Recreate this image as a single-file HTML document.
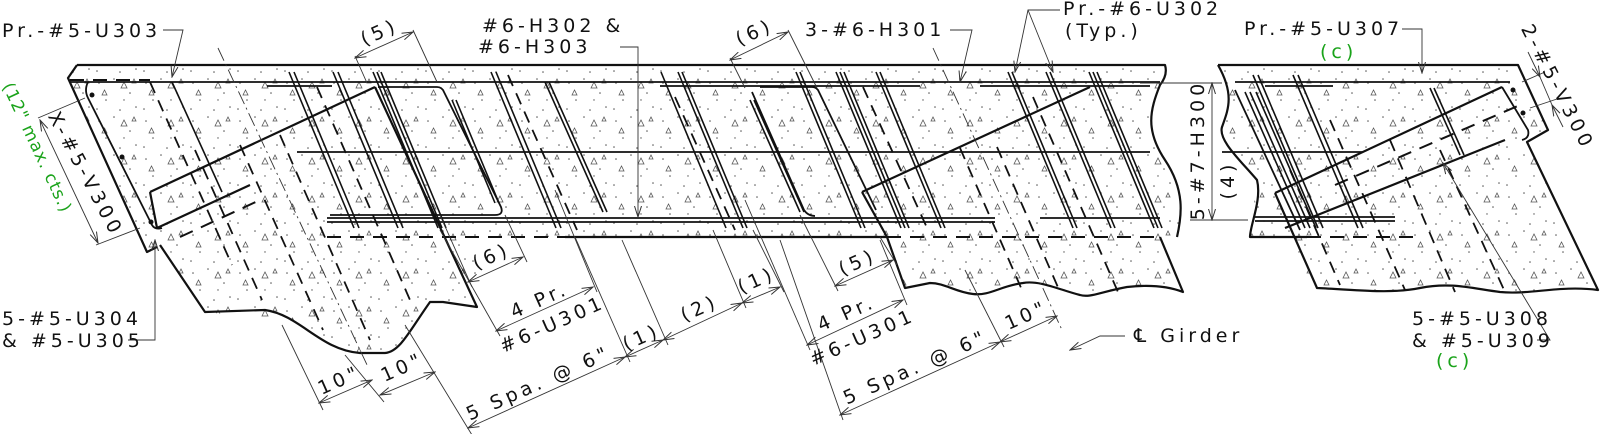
<!DOCTYPE html>
<html><head><meta charset="utf-8">
<style>
html,body{margin:0;padding:0;background:#fff;}
svg{display:block;}
text{font-family:"DejaVu Sans","Liberation Sans",sans-serif;font-size:19px;letter-spacing:4px;fill:#111;}
.g{fill:#1aa31a;}
</style></head><body>
<svg width="1600" height="434" viewBox="0 0 1600 434" xmlns="http://www.w3.org/2000/svg">
<defs>
<pattern id="st" patternUnits="userSpaceOnUse" width="47" height="38">
<g fill="#555"><circle cx="5" cy="7" r="0.8"/><circle cx="20" cy="3" r="0.8"/><circle cx="36" cy="17" r="0.8"/><circle cx="12" cy="24" r="0.8"/><circle cx="42" cy="31" r="0.8"/><circle cx="26" cy="34" r="0.8"/><circle cx="3" cy="33" r="0.8"/><circle cx="30" cy="24" r="0.7"/></g>
<g fill="none" stroke="#555" stroke-width="0.8"><path d="M27 12 l3 -6 l3 6 z"/><path d="M8 19 l2.5 -5 l2.5 5 z"/><path d="M38 7 l2 -4 l2 4z"/></g>
</pattern>
<marker id="ar" markerUnits="userSpaceOnUse" markerWidth="12" markerHeight="8" refX="11" refY="4" orient="auto-start-reverse"><path d="M0,0.5 L11,4 L0,7.5" fill="none" stroke="#333" stroke-width="1"/></marker>
</defs>

<g fill="url(#st)" stroke="none">
<path d="M77,65 H1165 Q1168,75 1160,85 C1150,110 1145,130 1165,160 C1185,190 1182,215 1177,237 L1160,237 L1183,292 C1165,285 1145,285 1127,287 C1100,292 1090,298 1080,295 C1060,290 1040,280 1023,283 C1000,286 990,296 973,294 C955,292 945,283 930,283 L905,288 L887,237 L477,237 L477,307 L443,302 L430,302 C410,330 400,352 385,353 L360,353 C330,350 305,318 280,320 L205,312 L160,245 L147,252 L68,78 Z"/>
<path d="M1218,65 H1518 L1548,130 L1527,142 L1598,290 C1560,285 1530,295 1500,292 C1470,288 1450,282 1420,288 C1390,294 1360,290 1317,288 L1280,237 L1250,237 L1257,180 C1240,160 1218,140 1222,127 C1228,110 1235,95 1218,65 Z"/>
</g>

<g fill="none" stroke="#111" stroke-width="2.2" stroke-linejoin="round">
<path d="M77,65 H1165 Q1168,75 1160,85 C1150,110 1145,130 1165,160 C1185,190 1182,215 1177,237"/>
<path d="M77,65 L68,78 L147,252 L157,247"/>
<line x1="565" y1="237" x2="887" y2="237"/>
<path d="M160,245 L205,312 L265,310 C300,315 320,350 360,353 L385,353 C400,352 410,330 430,302 L443,302 L477,307 L375,87"/>
<path d="M150,192 L375,87"/>
<path d="M150,192 L157,228 L250,185"/>
<path d="M887,237 L905,288 L930,283 C945,283 955,292 973,294 C990,296 1000,286 1023,283 C1040,280 1060,290 1080,295 C1090,298 1100,292 1127,287 C1145,285 1165,285 1183,292 L1160,237"/>
<path d="M862,192 L1090,87"/>
<path d="M862,192 L887,237"/>
<path d="M1218,65 H1518 L1548,130 L1527,142 L1598,290 C1560,285 1530,295 1500,292 C1470,288 1450,282 1420,288 C1390,294 1360,290 1317,288 L1275,193"/>
<path d="M1218,65 C1235,95 1228,110 1222,127 C1218,140 1240,160 1257,180 C1262,200 1250,225 1250,237 L1307,237"/>
<path d="M1275,193 L1502,87"/>
<path d="M1285,228 L1505,140"/>
</g>

<g stroke="#111" stroke-width="1.8" fill="none">
<line x1="70" y1="82" x2="1160" y2="82"/>
<line x1="267" y1="86" x2="332" y2="86"/>
<line x1="660" y1="86" x2="920" y2="86"/>
<line x1="980" y1="86" x2="1150" y2="86"/>
<line x1="297" y1="152" x2="1150" y2="152"/>
<line x1="327" y1="218" x2="995" y2="218"/>
<line x1="1040" y1="218" x2="1160" y2="218"/>
<line x1="327" y1="222" x2="995" y2="222"/>
<line x1="1235" y1="82" x2="1510" y2="82"/>
<line x1="1265" y1="86" x2="1333" y2="86"/>
<line x1="1222" y1="152" x2="1363" y2="152"/>
<line x1="1255" y1="217" x2="1395" y2="217"/>
<line x1="1255" y1="221" x2="1395" y2="221"/>
<path d="M88,82 Q84,90 88,98 L152,225 Q155,230 162,228"/>
<path d="M378,87 H437 Q442,87 444,92 L501,207 Q504,215 495,215 H330"/>
<path d="M760,87 H812 Q817,87 819,92 L876,210"/>
<path d="M752,92 L804,210 Q808,216 815,216"/>
<path d="M1502,87 L1528,130 Q1530,138 1522,140"/>
<path d="M1235,90 L1300,230"/>
</g>
<g stroke="#111" stroke-width="2" stroke-dasharray="14 9" fill="none">
<line x1="327" y1="237" x2="565" y2="237"/>
<line x1="887" y1="237" x2="1160" y2="237"/>
<line x1="1307" y1="237" x2="1413" y2="237"/>
<line x1="70" y1="80" x2="150" y2="80"/>
<path d="M180,237 L260,200"/>
<path d="M1335,185 L1520,105"/>
</g>
<g fill="#111"><circle cx="92" cy="95" r="2.5"/><circle cx="122" cy="157" r="2.5"/><circle cx="151" cy="222" r="2.5"/><circle cx="1513" cy="90" r="2.5"/><circle cx="1523" cy="113" r="2.5"/></g>

<g stroke="#111" stroke-width="1.6">
<line x1="172" y1="82" x2="222" y2="192"/>
<line x1="289" y1="72" x2="354" y2="228"/><line x1="294" y1="72" x2="359" y2="228"/>
<line x1="333" y1="72" x2="398" y2="228"/><line x1="338" y1="72" x2="403" y2="228"/>
<line x1="373" y1="72" x2="438" y2="228"/><line x1="377" y1="72" x2="442" y2="228"/><line x1="381" y1="72" x2="446" y2="228"/>
<line x1="452" y1="100" x2="495" y2="203"/><line x1="456" y1="100" x2="499" y2="203"/>
<line x1="491" y1="72" x2="556" y2="228"/><line x1="496" y1="72" x2="561" y2="228"/>
<line x1="545" y1="82" x2="603" y2="212"/><line x1="549" y1="82" x2="607" y2="212"/>
<line x1="661" y1="72" x2="726" y2="228"/>
<line x1="678" y1="72" x2="743" y2="228"/><line x1="682" y1="72" x2="747" y2="228"/>
<line x1="750" y1="100" x2="800" y2="212"/><line x1="754" y1="100" x2="804" y2="212"/>
<line x1="796" y1="72" x2="861" y2="228"/><line x1="800" y1="72" x2="865" y2="228"/>
<line x1="836" y1="72" x2="901" y2="228"/><line x1="840" y1="72" x2="905" y2="228"/><line x1="844" y1="72" x2="909" y2="228"/>
<line x1="876" y1="72" x2="941" y2="228"/><line x1="880" y1="72" x2="945" y2="228"/>
<line x1="1008" y1="72" x2="1073" y2="228"/><line x1="1012" y1="72" x2="1077" y2="228"/>
<line x1="1046" y1="72" x2="1111" y2="228"/><line x1="1050" y1="72" x2="1115" y2="228"/>
<line x1="1089" y1="72" x2="1154" y2="228"/><line x1="1093" y1="72" x2="1158" y2="228"/><line x1="1097" y1="72" x2="1162" y2="228"/>
<line x1="1245" y1="92" x2="1305" y2="228"/><line x1="1250" y1="92" x2="1310" y2="228"/><line x1="1256" y1="92" x2="1316" y2="228"/>
<line x1="1253" y1="75" x2="1318" y2="228"/><line x1="1258" y1="75" x2="1323" y2="228"/>
<line x1="1293" y1="75" x2="1358" y2="228"/><line x1="1298" y1="75" x2="1363" y2="228"/>
<line x1="1430" y1="88" x2="1460" y2="155"/><line x1="1434" y1="88" x2="1464" y2="155"/>
</g>
<g stroke="#111" stroke-width="1.8" stroke-dasharray="12 8">
<line x1="150" y1="82" x2="232" y2="265"/>
<line x1="195" y1="150" x2="262" y2="300"/>
<line x1="240" y1="145" x2="323" y2="330"/>
<line x1="280" y1="135" x2="370" y2="340"/>
<line x1="317" y1="87" x2="410" y2="300"/>
<line x1="508" y1="75" x2="577" y2="230"/>
<line x1="675" y1="97" x2="735" y2="230"/>
<line x1="863" y1="87" x2="928" y2="230"/>
<line x1="960" y1="148" x2="1022" y2="290"/>
<line x1="997" y1="147" x2="1060" y2="292"/>
<line x1="1033" y1="97" x2="1118" y2="292"/>
<line x1="1290" y1="170" x2="1340" y2="285"/>
<line x1="1330" y1="120" x2="1405" y2="290"/>
<line x1="1390" y1="140" x2="1455" y2="292"/>
<line x1="1440" y1="150" x2="1505" y2="292"/>
</g>
<g stroke="#333" stroke-width="0.9" stroke-dasharray="14 4 2 4">
<line x1="218" y1="48" x2="368" y2="367"/>
<line x1="933" y1="48" x2="1062" y2="330"/>
</g>

<g stroke="#333" stroke-width="0.9" fill="none">
<line x1="319" y1="403" x2="372" y2="380" marker-start="url(#ar)" marker-end="url(#ar)"/>
<line x1="380" y1="395" x2="435" y2="372" marker-start="url(#ar)" marker-end="url(#ar)"/>
<line x1="468" y1="428" x2="625" y2="357" marker-start="url(#ar)" marker-end="url(#ar)"/>
<line x1="625" y1="357" x2="663" y2="340" marker-start="url(#ar)" marker-end="url(#ar)"/>
<line x1="663" y1="340" x2="742" y2="303" marker-start="url(#ar)" marker-end="url(#ar)"/>
<line x1="742" y1="303" x2="780" y2="287" marker-start="url(#ar)" marker-end="url(#ar)"/>
<line x1="496" y1="331" x2="593" y2="287" marker-start="url(#ar)" marker-end="url(#ar)"/>
<line x1="468" y1="282" x2="523" y2="257" marker-start="url(#ar)" marker-end="url(#ar)"/>
<line x1="355" y1="58" x2="413" y2="32" marker-start="url(#ar)" marker-end="url(#ar)"/>
<line x1="730" y1="60" x2="788" y2="32" marker-start="url(#ar)" marker-end="url(#ar)"/>
<line x1="835" y1="286" x2="893" y2="260" marker-start="url(#ar)" marker-end="url(#ar)"/>
<line x1="807" y1="345" x2="903" y2="300" marker-start="url(#ar)" marker-end="url(#ar)"/>
<line x1="840" y1="415" x2="1000" y2="342" marker-start="url(#ar)" marker-end="url(#ar)"/>
<line x1="1000" y1="342" x2="1057" y2="316" marker-start="url(#ar)" marker-end="url(#ar)"/>
<line x1="40" y1="120" x2="98" y2="243" marker-start="url(#ar)" marker-end="url(#ar)"/>
<line x1="1212" y1="83" x2="1212" y2="220" marker-start="url(#ar)" marker-end="url(#ar)"/>
<line x1="1528" y1="52" x2="1540" y2="77" marker-end="url(#ar)"/>
<line x1="1563" y1="127" x2="1552" y2="105" marker-end="url(#ar)"/>
<line x1="1540" y1="77" x2="1552" y2="105"/>
<line x1="282" y1="325" x2="323" y2="410"/>
<line x1="345" y1="355" x2="384" y2="402"/>
<line x1="405" y1="325" x2="472" y2="435"/>
<line x1="575" y1="237" x2="630" y2="362"/>
<line x1="622" y1="240" x2="668" y2="345"/>
<line x1="713" y1="230" x2="746" y2="308"/>
<line x1="753" y1="230" x2="784" y2="292"/>
<line x1="440" y1="230" x2="500" y2="336"/>
<line x1="555" y1="190" x2="597" y2="292"/>
<line x1="440" y1="215" x2="472" y2="287"/>
<line x1="505" y1="215" x2="527" y2="262"/>
<line x1="367" y1="83" x2="355" y2="56"/>
<line x1="437" y1="82" x2="413" y2="30"/>
<line x1="745" y1="88" x2="730" y2="58"/>
<line x1="817" y1="88" x2="788" y2="30"/>
<line x1="800" y1="215" x2="838" y2="291"/>
<line x1="880" y1="237" x2="897" y2="265"/>
<line x1="745" y1="200" x2="810" y2="350"/>
<line x1="880" y1="240" x2="907" y2="305"/>
<line x1="780" y1="240" x2="843" y2="420"/>
<line x1="965" y1="270" x2="1004" y2="347"/>
<line x1="85" y1="98" x2="38" y2="118"/>
<line x1="140" y1="228" x2="96" y2="245"/>
<line x1="1140" y1="83" x2="1222" y2="83"/>
<line x1="1190" y1="220" x2="1248" y2="220"/>
<line x1="1522" y1="82" x2="1545" y2="72"/>
<line x1="1530" y1="108" x2="1557" y2="99"/>
<polyline points="163,30 183,30 172,77" marker-end="url(#ar)"/>
<polyline points="620,47 638,47 638,217" marker-end="url(#ar)"/>
<polyline points="950,30 972,30 960,82" marker-end="url(#ar)"/>
<polyline points="1060,10 1028,10 1015,72" marker-end="url(#ar)"/>
<polyline points="1028,10 1053,72" marker-end="url(#ar)"/>
<polyline points="1402,29 1422,29 1422,73" marker-end="url(#ar)"/>
<polyline points="1537,340 1550,340 1443,163" marker-end="url(#ar)"/>
<polyline points="128,340 155,340 155,240" marker-end="url(#ar)"/>
<polyline points="1125,336 1100,336 1070,350" marker-end="url(#ar)"/>
</g>

<text x="2" y="37">Pr.-#5-U303</text>
<text x="482" y="32">#6-H302 &amp;</text>
<text x="478" y="53">#6-H303</text>
<text x="805" y="36">3-#6-H301</text>
<text x="1063" y="15">Pr.-#6-U302</text>
<text x="1065" y="37">(Typ.)</text>
<text x="1244" y="35">Pr.-#5-U307</text>
<text x="1320" y="58" class="g">(c)</text>
<text x="1412" y="325">5-#5-U308</text>
<text x="2" y="325">5-#5-U304</text>
<text x="2" y="347">&amp; #5-U305</text>
<text x="1412" y="347">&amp; #5-U309</text>
<text x="1436" y="367" class="g">(c)</text>
<text x="1134" y="342">℄ Girder</text>
<text transform="translate(1204,150) rotate(-90)" text-anchor="middle">5-#7-H300</text>
<text transform="translate(1234,180) rotate(-90)" text-anchor="middle">(4)</text>
<text transform="translate(1552,90) rotate(63)" text-anchor="middle">2-#5-V300</text>
<text transform="translate(80,177) rotate(62)" text-anchor="middle">X-#5-V300</text>
<text transform="translate(32,150) rotate(65)" text-anchor="middle" class="g" style="font-size:17px;letter-spacing:1px">(12" max. cts.)</text>
<g text-anchor="middle">
<text transform="translate(382,38) rotate(-24)">(5)</text>
<text transform="translate(757,38) rotate(-24)">(6)</text>
<text transform="translate(494,262) rotate(-24)">(6)</text>
<text transform="translate(542,306) rotate(-24)">4 Pr.</text>
<text transform="translate(555,330) rotate(-24)">#6-U301</text>
<text transform="translate(541,389) rotate(-24)">5 Spa. @ 6"</text>
<text transform="translate(644,343) rotate(-24)">(1)</text>
<text transform="translate(702,314) rotate(-24)">(2)</text>
<text transform="translate(759,286) rotate(-24)">(1)</text>
<text transform="translate(342,386) rotate(-24)">10"</text>
<text transform="translate(405,373) rotate(-24)">10"</text>
<text transform="translate(860,268) rotate(-24)">(5)</text>
<text transform="translate(849,319) rotate(-24)">4 Pr.</text>
<text transform="translate(865,343) rotate(-24)">#6-U301</text>
<text transform="translate(918,373) rotate(-24)">5 Spa. @ 6"</text>
<text transform="translate(1029,321) rotate(-24)">10"</text>
</g>
</svg>
</body></html>
